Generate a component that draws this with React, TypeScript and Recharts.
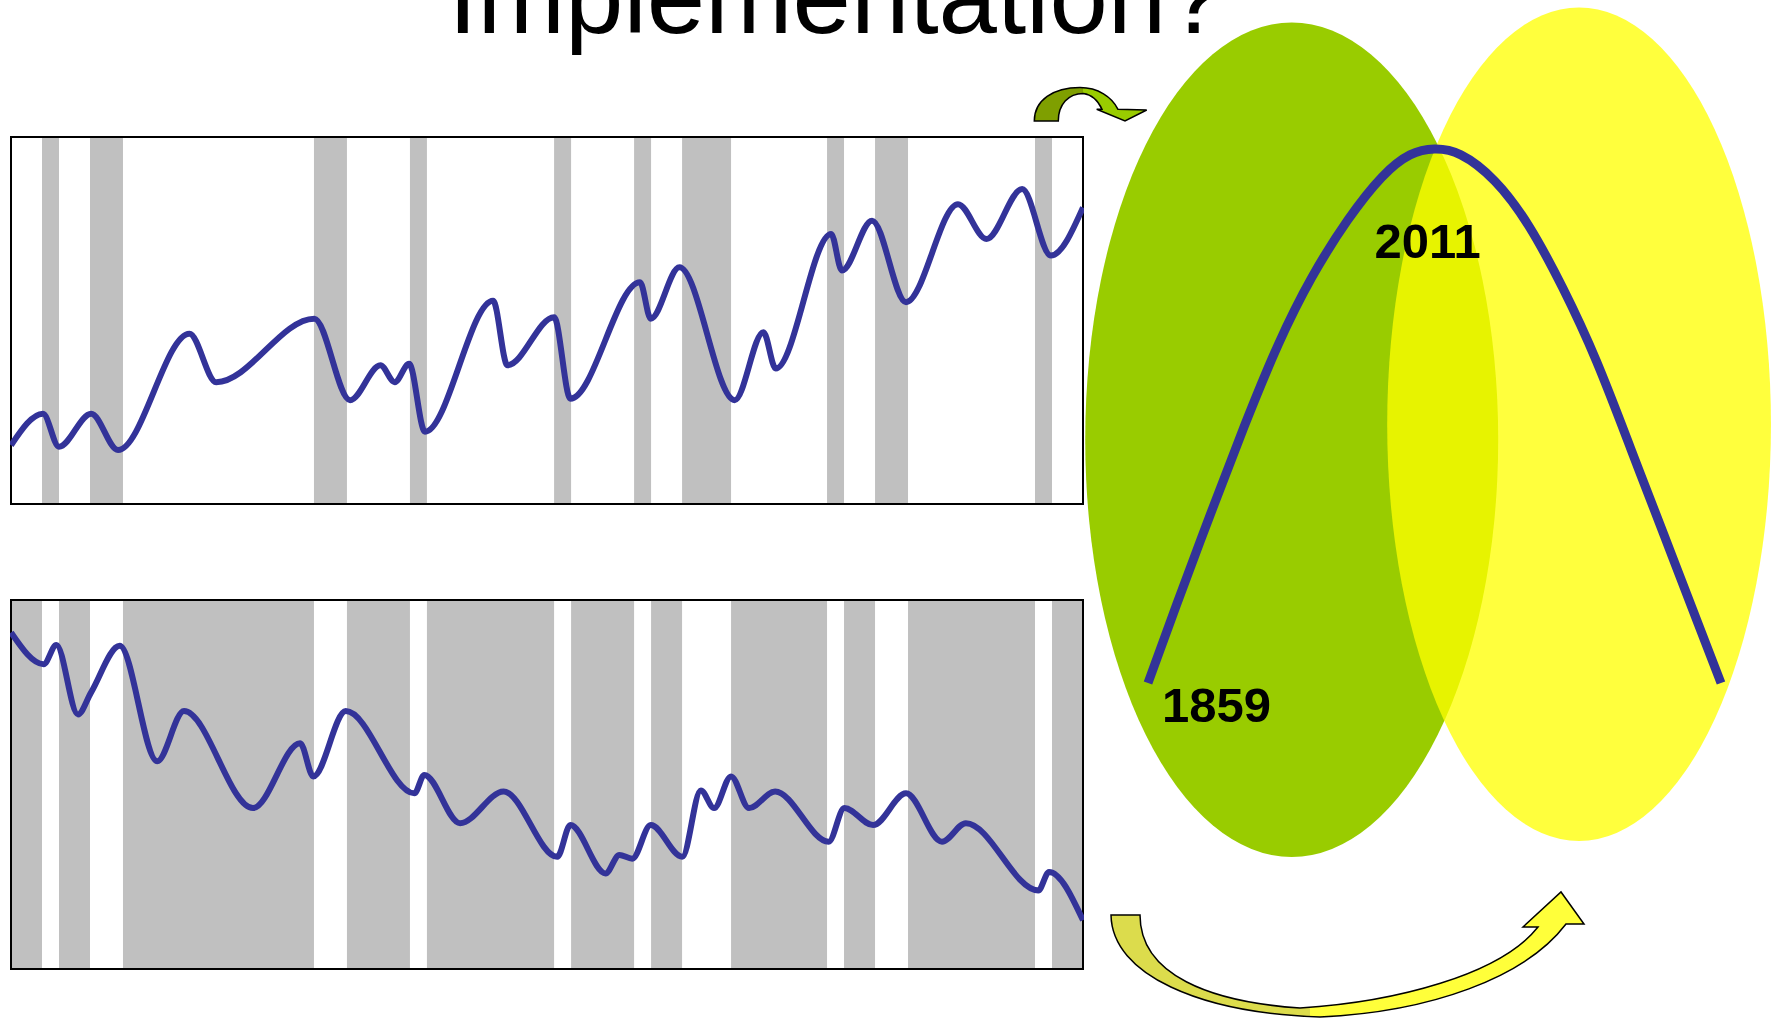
import React from 'react';
import { LineChart, Line, XAxis, YAxis, ReferenceArea, ReferenceDot, Customized } from 'recharts';

// Recession-like shaded periods (x units, 0..65)
const bandStart = [1.88, 4.79, 18.37, 24.19, 32.93, 37.78, 40.69, 49.48, 52.39, 62.09];
const bandEnd = [2.91, 6.79, 20.37, 25.22, 33.96, 38.81, 43.66, 50.51, 54.39, 63.12];

// Upper panel series
const topX = [0, 1.94, 2.91, 4.86, 6.49, 10.82, 12.44, 18.39, 20.56, 22.4, 23.27, 24.14, 25.1, 29.23, 30.1, 32.93, 33.92, 38.14, 38.79, 40.53, 43.88, 45.62, 46.37, 49.73, 50.38, 52.21, 54.27, 57.42, 59.15, 61.31, 63.05, 65];
const topValues = [16.0, 24.6, 15.6, 24.6, 14.7, 46.4, 33.2, 50.5, 28.3, 37.8, 33.2, 38.2, 19.7, 55.4, 37.8, 50.9, 28.7, 60.4, 50.5, 64.5, 28.3, 46.8, 36.9, 73.6, 63.6, 77.2, 55.0, 81.7, 72.2, 85.8, 67.7, 80.8];

// Lower panel series
const bottomX = [0, 1.98, 2.75, 4.06, 4.85, 6.59, 8.86, 10.49, 14.67, 17.53, 18.33, 20.3, 24.46, 25.06, 27.23, 29.87, 33.12, 33.92, 36.05, 36.89, 37.67, 38.79, 40.7, 41.83, 42.63, 43.66, 44.75, 46.33, 49.58, 50.53, 52.27, 54.27, 56.45, 57.9, 62.29, 62.94, 65];
const bottomValues = [91.2, 82.6, 87.8, 69.0, 74.9, 87.6, 56.3, 69.9, 43.6, 61.2, 52.2, 69.9, 47.6, 52.6, 39.5, 48.1, 30.4, 39.0, 25.9, 30.9, 29.9, 39.0, 30.4, 48.4, 43.6, 52.2, 43.6, 48.1, 34.5, 43.6, 39.0, 47.6, 34.5, 39.5, 21.3, 26.3, 13.2];

// Arch (Hubbert-like curve)
const archYears = [1859, 1874, 1892, 1910, 1928, 1946, 1965, 1983, 1998, 2011, 2025, 2043, 2061, 2079, 2097, 2115, 2133, 2151, 2163];
const archValues = [0, 14.5, 31.5, 48.0, 63.3, 76.0, 86.7, 94.7, 98.9, 100, 98.9, 94.0, 85.6, 74.0, 60.2, 44.0, 27.5, 11.0, 0];

// Ellipse extents in arch-chart data units
const greenEllipse = { x1: 1825.7, x2: 2044.8, y1: -32.6, y2: 123.7 };
const yellowEllipse = { x1: 1985.9, x2: 2189.5, y1: -29.6, y2: 126.5 };

const FONT = "'Liberation Sans', Arial, Helvetica, sans-serif";

function Panel({ top, height, xs, ys, bg, bandColor }: any) {
  const data = xs.map((x: number, i: number) => ({ x, v: ys[i] }));
  return (
    <div style={{ position: 'absolute', left: 10, top, width: 1074, height }}>
      <LineChart width={1074} height={height} data={data} margin={{ top: 1, right: 1, bottom: 1, left: 1 }}>
        <XAxis type="number" dataKey="x" domain={[0, 65]} hide />
        <YAxis type="number" domain={[0, 100]} hide />
        <ReferenceArea x1={0} x2={65} y1={0} y2={100} fill={bg} fillOpacity={1} stroke="none" ifOverflow="visible" />
        {bandStart.map((s, i) => (
          <ReferenceArea key={i} x1={s} x2={bandEnd[i]} y1={0} y2={100} fill={bandColor} fillOpacity={1} stroke="none" ifOverflow="visible" />
        ))}
        <ReferenceArea x1={0} x2={65} y1={0} y2={100} fill="none" fillOpacity={0} stroke="#000" strokeWidth={2} ifOverflow="visible" />
        <Line dataKey="v" type="monotone" stroke="#333399" strokeWidth={6} dot={false} isAnimationActive={false} />
      </LineChart>
    </div>
  );
}

const ellipseShape = (fill: string, opacity: number) => (p: any) => (
  <ellipse cx={p.x + p.width / 2} cy={p.y + p.height / 2} rx={Math.abs(p.width) / 2} ry={Math.abs(p.height) / 2} fill={fill} fillOpacity={opacity} />
);

const labelShape = (text: string, dx: number, dy: number) => (p: any) => (
  <text x={p.cx + dx} y={p.cy + dy} fontFamily={FONT} fontWeight="bold" fontSize={49} fill="#000">{text}</text>
);

function Decor() {
  return (
    <g>
      <defs>
        <linearGradient id="smallArrowGrad" gradientUnits="userSpaceOnUse" x1="1034" y1="0" x2="1147" y2="0">
          <stop offset="0" stopColor="#7f9f00" />
          <stop offset="0.43" stopColor="#7f9f00" />
          <stop offset="0.43" stopColor="#99cc00" />
          <stop offset="1" stopColor="#99cc00" />
        </linearGradient>
        <linearGradient id="bigArrowGrad" gradientUnits="userSpaceOnUse" x1="1111" y1="0" x2="1584" y2="0">
          <stop offset="0" stopColor="#dcdc4c" />
          <stop offset="0.42" stopColor="#dcdc4c" />
          <stop offset="0.42" stopColor="#ffff3a" />
          <stop offset="1" stopColor="#ffff3a" />
        </linearGradient>
      </defs>
      <text x={836.5} y={33} textAnchor="middle" fontFamily={FONT} fontSize={105} fill="#000">Implementation?</text>
      <path
        d="M1034.3 121 C1034.3 100 1053.3 87.5 1080 87.5 C1098 87.5 1112 97 1118 109.3 L1146.7 110 L1125 121 L1096.7 109.3 L1102 109.3 C1098 100.5 1091 94.5 1083.3 93.5 C1068.3 93.5 1058.3 104.5 1058.3 121 Z"
        fill="url(#smallArrowGrad)"
        stroke="#000"
        strokeWidth={1.5}
        strokeLinejoin="miter"
      />
      <path
        d="M1111 915 C1112 975 1200 1013 1320 1017 C1430 1012 1525 978 1566 924 L1584 924 L1561 892 L1523 927 L1538 927 C1500 975 1395 1002 1300 1008 C1210 1002 1140 975 1140 915 Z"
        fill="url(#bigArrowGrad)"
        stroke="#000"
        strokeWidth={1.5}
      />
    </g>
  );
}

export default function App() {
  const archData = archYears.map((year, i) => ({ year, v: archValues[i] }));
  return (
    <div style={{ position: 'absolute', left: 0, top: 0, width: 1773, height: 1020, background: '#fff', overflow: 'hidden' }}>
      <div style={{ position: 'absolute', left: 0, top: 0 }}>
        <LineChart width={1773} height={1020} data={archData} margin={{ top: 149, right: 52, bottom: 337, left: 1148 }}>
          <XAxis type="number" dataKey="year" domain={[1859, 2163]} hide />
          <YAxis type="number" domain={[0, 100]} hide />
          <ReferenceArea {...greenEllipse} ifOverflow="visible" shape={ellipseShape('#99cc00', 1)} />
          <ReferenceArea {...yellowEllipse} ifOverflow="visible" shape={ellipseShape('#ffff00', 0.76)} />
          <Customized component={Decor} />
          <Line dataKey="v" type="natural" stroke="#333399" strokeWidth={9} dot={false} isAnimationActive={false} />
          <ReferenceDot x={1859} y={0} r={0} ifOverflow="visible" shape={labelShape('1859', 14, 39)} />
          <ReferenceDot x={2011} y={100} r={0} ifOverflow="visible" shape={labelShape('2011', -60, 109)} />
        </LineChart>
      </div>
      <Panel top={136} height={369} xs={topX} ys={topValues} bg="#ffffff" bandColor="#c0c0c0" />
      <Panel top={599} height={371} xs={bottomX} ys={bottomValues} bg="#c0c0c0" bandColor="#ffffff" />
    </div>
  );
}
